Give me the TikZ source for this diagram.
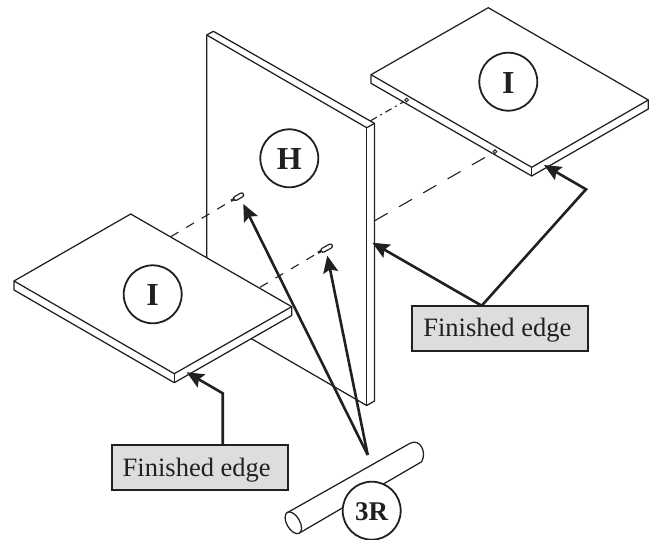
\documentclass[tikz,border=0pt]{standalone}
\usepackage{fontspec}
\setmainfont{Liberation Serif}
\usetikzlibrary{arrows.meta}
\definecolor{ink}{HTML}{231F20}
\definecolor{boxgray}{HTML}{DCDDDE}
\tikzset{
  panel/.style={draw=ink,line width=1.25pt,fill=white,line join=round},
  edgeline/.style={draw=ink,line width=1.25pt},
  hint/.style={draw=ink,line width=1.1pt,dash pattern=on 9pt off 9pt},
  hintlong/.style={draw=ink,line width=1.1pt,dash pattern=on 15pt off 13pt},
  hintdot/.style={draw=ink,line width=1.1pt,dash pattern=on 7pt off 4pt on 2pt off 4pt},
  tag/.style={circle,draw=ink,line width=1.8pt,fill=white,minimum size=58pt,inner sep=0pt,text=ink,text height=23.2pt,text depth=0pt,font=\fontsize{32}{32}\selectfont\bfseries},
  label/.style={draw=ink,line width=2pt,fill=boxgray,text=ink,minimum width=176pt,minimum height=45pt,inner sep=0pt,text height=20pt,text depth=4pt,font=\fontsize{26.5}{26.5}\selectfont},
  pointer/.style={draw=ink,line width=2.6pt,line join=miter,-{Stealth[length=17pt,width=15pt,inset=3pt]}}
}
\begin{document}
\begin{tikzpicture}[x=1pt,y=-1pt]
\useasboundingbox (0,0) rectangle (657,540);

% points used by connectors
\coordinate (pegA) at (232.7,200);
\coordinate (pegB) at (320,251.7);
\coordinate (shelfA) at (170.7,236.7);
\coordinate (shelfB) at (260,287.3);
\coordinate (holeA) at (406.7,100);
\coordinate (holeB) at (495,151.7);
\coordinate (panelA) at (370.7,120.7);
\coordinate (panelB) at (374.7,220.7);

% upright panel H
\filldraw[panel] (206.7,35) -- (213.4,31.3) -- (374.5,123.4) -- (374.5,401) -- (366.7,405.5) -- (206.7,312.8) -- cycle;
\draw[edgeline] (206.7,35) -- (366.7,127.7) -- (374.5,123.4);
\draw[edgeline,line width=1.5pt] (366.7,127.7) -- (366.7,405.5);

% dashed guide lines
\draw[hint] (shelfA) -- (pegA);
\draw[hint] (shelfB) -- (pegB);
\draw[hintdot] (panelA) -- (holeA);
\draw[hintlong] (panelB) -- (holeB);

% pegs
\draw[ink,line width=2.4pt] (231,200.8) -- (234,199.2);
\draw[ink,line width=5.4pt,line cap=round] (235.6,198.4) -- (241.6,195);
\draw[white,line width=2.8pt,line cap=round] (235.6,198.4) -- (241.6,195);
\draw[ink,line width=2.4pt] (318,252.8) -- (321,251.1);
\draw[ink,line width=5.4pt,line cap=round] (323,250.2) -- (330.4,246.1);
\draw[white,line width=2.8pt,line cap=round] (323,250.2) -- (330.4,246.1);

% right shelf I
\filldraw[panel] (488.3,7.7) -- (648.3,100) -- (648.3,109) -- (531.7,176) -- (371,83.3) -- (371,74.7) -- cycle;
\draw[edgeline] (371,74.7) -- (531.7,167.3) -- (648.3,100);
\draw[edgeline] (531.7,167.3) -- (531.7,176);
\draw[ink,line width=1pt] (holeA) circle[radius=1.8];
\draw[ink,line width=1pt] (holeB) circle[radius=1.8];

% left shelf I
\filldraw[panel] (130.7,214) -- (291.7,306.7) -- (291.7,315.5) -- (174.3,382.7) -- (14,290) -- (14,281) -- cycle;
\draw[edgeline] (14,281) -- (174.3,373.7) -- (291.7,306.7);
\draw[edgeline] (174.3,373.7) -- (174.3,382.7);

% dowel rod
\filldraw[panel] (286.7,513) -- (410,443.3) .. controls (420,438) and (427,452) .. (421.7,461.7) -- (300,532.7) -- cycle;
\filldraw[panel] (293.3,522.8) ellipse[x radius=6.5,y radius=12,rotate=30];

% labels
\node[tag] (H) at (289.3,158.3) {H};
\node[tag] (IR) at (508.3,81.7) {I};
\node[tag] (IL) at (152.7,294.3) {I};
\node[tag,text height=20.6pt,font=\fontsize{27}{27}\selectfont\bfseries] (R) at (371.7,510.7) {3R};
\node[label] (boxL) at (199.7,468) {Finished edge\hspace*{6pt}};
\node[label] (boxR) at (499.8,328.7) {Finished edge\hspace*{5pt}};

% pointers
\coordinate (bendL) at (222.7,393.3);
\coordinate (tipL) at (186.7,372.3);
\coordinate (startL) at (222.7,445);
\coordinate (startR) at (481.7,305.7);
\coordinate (bendR) at (586,189.3);
\coordinate (tipR) at (544,165);
\coordinate (tipP) at (372.3,242.7);
\coordinate (apex) at (367.7,455);
\coordinate (tipA) at (243.3,204);
\coordinate (tipB) at (327.3,255.7);

\draw[pointer] (startL) -- (bendL) -- (tipL);
\draw[pointer] (startR) -- (bendR) -- (tipR);
\draw[pointer] (startR) -- (tipP);
\draw[pointer] (apex) -- (tipA);
\draw[pointer] (apex) -- (tipB);
\end{tikzpicture}
\end{document}
